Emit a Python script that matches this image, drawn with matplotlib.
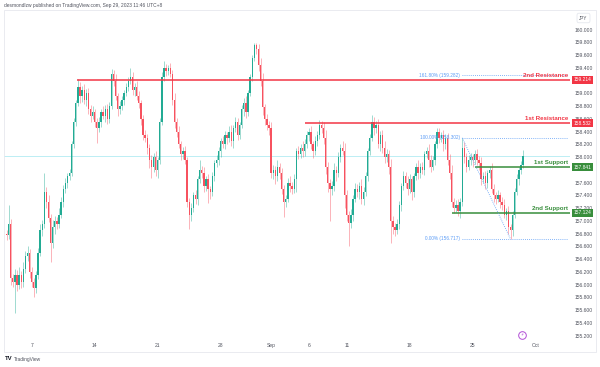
import numpy as np
import matplotlib
matplotlib.use("Agg")
import matplotlib.pyplot as plt
from matplotlib.patches import Rectangle
from matplotlib.transforms import blended_transform_factory

plt.rcParams['font.family'] = ['Liberation Sans', 'DejaVu Sans']

# ---------------- data (USDJPY 4H, Aug 3 - Sep 29 2023) ----------------
first_open = 156.80
closes = [
    156.78, 156.95, 156.10, 156.05, 156.15, 156.00, 156.15, 156.05, 156.25, 156.45,
    156.50, 156.20, 156.05, 155.95, 156.15, 156.50, 156.85, 156.95, 157.45, 157.30,
    157.05, 156.65, 156.90, 157.00, 156.95, 157.10, 157.30, 157.50, 157.60, 157.70,
    157.75, 158.20, 158.55, 158.85, 159.10, 158.95, 159.05, 158.90, 159.00, 158.75,
    158.65, 158.70, 158.55, 158.45, 158.55, 158.70, 158.65, 158.75, 158.60, 158.80,
    159.30, 159.20, 158.95, 158.75, 158.80, 158.90, 159.00, 159.10, 159.20, 159.25,
    159.05, 159.10, 158.95, 158.85, 158.60, 158.35, 158.30, 158.15, 157.95, 157.85,
    158.00, 157.80, 157.95, 158.55, 159.25, 159.40, 159.35, 159.40, 159.30, 158.90,
    158.55, 158.40, 158.20, 158.05, 158.10, 157.95, 157.30, 157.10, 157.20, 157.40,
    157.35, 157.65, 157.80, 157.75, 157.55, 157.65, 157.50, 157.45, 157.70, 157.90,
    157.95, 158.10, 158.25, 158.20, 158.35, 158.30, 158.40, 158.25, 158.45, 158.55,
    158.35, 158.50, 158.75, 158.85, 158.70, 159.00, 159.25, 159.55, 159.75, 159.70,
    159.45, 159.20, 158.78, 158.60, 158.50, 158.45, 157.75, 157.80, 157.70, 157.85,
    157.75, 157.50, 157.30, 157.35, 157.60, 157.55, 157.50, 157.65, 158.10, 158.05,
    158.15, 158.10, 158.20, 158.35, 158.40, 158.20, 158.10, 158.25, 158.35, 158.50,
    158.45, 158.30, 157.85, 157.60, 157.50, 157.55, 157.80, 157.75, 158.00, 158.15,
    158.10, 157.40, 157.10, 156.97, 157.10, 157.35, 157.50, 157.45, 157.55, 157.35,
    157.45, 157.70, 158.10, 158.30, 158.55, 158.45, 158.50, 158.20, 158.35, 158.15,
    158.00, 158.05, 157.85, 157.00, 156.90, 156.85, 156.95, 157.25, 157.55, 157.70,
    157.60, 157.50, 157.65, 157.45, 157.70, 157.85, 157.75, 157.85, 157.80, 158.05,
    158.10, 157.95, 157.85, 157.95, 158.20, 158.40, 158.30, 158.35, 158.20, 158.30,
    157.95, 157.75, 157.30, 157.20, 157.25, 157.15, 157.30, 158.15, 158.00, 157.85,
    157.95, 158.00, 157.95, 158.05, 157.95, 157.90, 157.65, 157.70, 157.60, 157.75,
    157.80, 157.50, 157.40, 157.35, 157.40, 157.30, 157.25, 157.10, 157.15, 156.90,
    156.85, 157.10, 157.45, 157.65, 157.80, 157.88, 158.02,
]
# upper / lower wick lengths in hundredths of a yen
upper_wick = [
    5, 30, 8, 6, 10, 8, 12, 6, 10, 8,
    10, 6, 8, 5, 6, 8, 10, 6, 30, 8,
    10, 6, 12, 8, 6, 10, 8, 6, 8, 5,
    6, 5, 6, 5, 12, 8, 6, 10, 6, 8,
    6, 10, 5, 6, 8, 5, 10, 6, 8, 6,
    8, 6, 10, 5, 8, 6, 5, 6, 5, 15,
    8, 6, 10, 8, 5, 6, 8, 6, 5, 8,
    6, 10, 5, 6, 8, 10, 6, 5, 8, 6,
    10, 6, 8, 5, 6, 8, 5, 6, 8, 6,
    8, 5, 15, 6, 10, 6, 8, 5, 6, 5,
    8, 6, 5, 8, 6, 5, 8, 10, 6, 8,
    6, 5, 6, 8, 10, 5, 6, 5, 4, 4,
    8, 10, 12, 6, 8, 6, 10, 8, 6, 10,
    6, 8, 6, 5, 8, 10, 6, 8, 5, 8,
    6, 10, 8, 6, 5, 8, 6, 8, 6, 8,
    6, 10, 12, 8, 6, 8, 10, 6, 8, 5,
    10, 12, 8, 6, 8, 6, 10, 8, 6, 10,
    8, 6, 5, 6, 11, 8, 6, 10, 6, 8,
    10, 8, 6, 12, 8, 6, 8, 6, 5, 8,
    6, 10, 8, 6, 5, 6, 10, 6, 8, 5,
    6, 10, 8, 6, 5, 5, 6, 5, 8, 6,
    8, 10, 12, 6, 8, 10, 6, 15, 8, 6,
    8, 6, 5, 6, 8, 6, 10, 6, 8, 5,
    6, 10, 8, 6, 8, 6, 8, 10, 6, 8,
    5, 5, 6, 8, 5, 6, 9,
]
lower_wick = [
    8, 6, 10, 8, 50, 10, 6, 10, 8, 6,
    8, 10, 8, 15, 8, 6, 5, 8, 6, 10,
    6, 29, 8, 10, 8, 6, 5, 8, 6, 8,
    6, 5, 5, 6, 5, 10, 8, 6, 10, 8,
    10, 6, 8, 23, 6, 8, 6, 10, 8, 6,
    5, 8, 6, 10, 8, 6, 8, 5, 6, 5,
    8, 10, 6, 8, 10, 8, 6, 10, 12, 18,
    8, 10, 12, 6, 5, 6, 8, 6, 5, 8,
    10, 8, 6, 10, 8, 6, 8, 22, 10, 6,
    8, 10, 6, 8, 10, 8, 22, 10, 6, 8,
    6, 8, 10, 6, 8, 10, 6, 8, 10, 6,
    8, 6, 5, 10, 8, 6, 5, 6, 5, 8,
    10, 8, 12, 10, 8, 10, 8, 10, 12, 8,
    10, 8, 24, 8, 6, 10, 8, 6, 20, 8,
    6, 10, 8, 6, 10, 8, 12, 6, 8, 6,
    8, 10, 12, 15, 50, 10, 8, 12, 6, 8,
    6, 20, 10, 37, 8, 10, 6, 8, 10, 8,
    10, 6, 8, 6, 5, 10, 8, 6, 10, 8,
    10, 8, 12, 35, 10, 8, 6, 8, 10, 6,
    8, 10, 6, 12, 8, 6, 10, 8, 6, 8,
    6, 10, 8, 6, 8, 5, 8, 6, 10, 8,
    8, 10, 8, 8, 6, 8, 10, 6, 10, 8,
    6, 8, 10, 6, 8, 10, 8, 6, 10, 8,
    8, 6, 10, 8, 6, 10, 8, 6, 8, 10,
    13, 8, 6, 5, 8, 6, 5,
]

x_tick_pos = [12, 42, 72, 102, 126, 144, 162, 192, 222, 252]
x_tick_labels = ['7', '14', '21', '28', 'Sep', '6', '11', '18', '25', 'Oct']
# 159.200 and 157.800 are hidden behind the level tags in the reference
y_ticks = [155.2, 155.4, 155.6, 155.8, 156.0, 156.2, 156.4, 156.6, 156.8, 157.0,
           157.2, 157.4, 157.6, 158.0, 158.2, 158.4, 158.6, 158.8, 159.0,
           159.4, 159.6, 159.8, 160.0]

levels = {  # name: (price, start candle, colour)
    '2nd Resistance': (159.214, 33.5, '#f23645'),
    '1st Resistance': (158.532, 142, '#f23645'),
    '1st Support': (157.841, 223, '#388e3c'),
    '2nd Support': (157.124, 212, '#388e3c'),
}
fib_levels = [(1.618, 159.282), (1.0, 158.302), (0.0, 156.717)]
fib_start, fib_end_anchor = 217, 240
last_price = 158.02

# ---------------- build OHLC ----------------
closes = np.array(closes)
opens = np.concatenate([[first_open], closes[:-1]])
highs = np.maximum(opens, closes) + np.array(upper_wick) / 100.0
lows = np.minimum(opens, closes) - np.array(lower_wick) / 100.0
idx = np.arange(len(closes))

GREEN = '#22ab94'
RED = '#f7525f'
up = closes >= opens
colors = np.where(up, GREEN, RED)

# ---------------- figure ----------------
W, H = 600, 367
fig = plt.figure(figsize=(W / 100, H / 100), dpi=100)
fig.patch.set_facecolor('white')
ax = fig.add_axes([4 / W, 1 - 340 / H, 566 / W, 330 / H])
ax.set_facecolor('white')

XMIN, XMAX = (4 - 6.5) / 2.1, (570 - 6.5) / 2.1
ax.set_xlim(XMIN, XMAX)
ax.set_ylim(160 - (340 - 29.5) / 63.8, 160 + (29.5 - 10) / 63.8)

# last price line
ax.axhline(last_price, color='#b2ebf2', lw=0.6, zorder=1)

# candles
ax.vlines(idx, lows, highs, colors=colors, lw=0.55, alpha=0.55, zorder=2)
body_h = np.maximum(np.abs(closes - opens), 0.012)
ax.bar(idx, body_h, bottom=np.minimum(opens, closes), width=0.62,
       color=colors, edgecolor='none', zorder=3)

# support / resistance
for name, (price, start, col) in levels.items():
    ax.hlines(price, start, XMAX, colors=col, lw=1.1, zorder=4)
    ax.text(267.4, price + 0.03, name, color=col, fontsize=4.4, fontweight='bold',
            ha='right', va='bottom', zorder=6)

# fibonacci
FIB = '#5b9cf6'
for lvl, price in fib_levels:
    ax.hlines(price, fib_start, 267, colors=FIB, lw=0.6, linestyles=(0, (1, 1.5)), zorder=4)
    ax.text(fib_start - 1.2, price, f'{lvl * 100:.2f}% ({price:.3f})', color=FIB,
            fontsize=3.4, ha='right', va='center', zorder=6)
ax.plot([fib_start, fib_end_anchor], [fib_levels[1][1], fib_levels[2][1]],
        color=FIB, lw=0.6, ls=(0, (1, 1.5)), zorder=4)

# axes styling
for s in ax.spines.values():
    s.set_visible(False)
ax.yaxis.tick_right()
ax.set_yticks(y_ticks)
ax.set_yticklabels([f'{v:.3f}' for v in y_ticks])
ax.tick_params(axis='y', length=0, pad=3.0, labelsize=3.6, labelcolor='#50535e')
ax.set_xticks(x_tick_pos)
ax.set_xticklabels(x_tick_labels)
ax.tick_params(axis='x', length=0, pad=2.5, labelsize=3.6, labelcolor='#50535e')

# price tags on the axis
tr = blended_transform_factory(fig.transFigure, ax.transData)
for name, (price, start, col) in levels.items():
    ax.text(582.5 / W, price, f'{price:.3f}', transform=tr, color='white',
            fontsize=3.5, ha='center', va='center', zorder=10, clip_on=False,
            bbox=dict(boxstyle='square,pad=0.3', fc=col, ec='none'))

# event marker
ax.plot([245.4], [155.21], marker='o', ms=5.5, mfc='white', mec='#b24fd6', mew=0.7,
        clip_on=False, zorder=7)
ax.text(245.4, 155.21, '\u26a1', family='DejaVu Sans', color='#b24fd6', fontsize=3.2,
        ha='center', va='center', clip_on=False, zorder=8)

# frame, header, footer
fig.add_artist(Rectangle((4 / W, 1 - 352 / H), 592 / W, 342 / H, transform=fig.transFigure,
                         fill=False, ec='#e6e8ee', lw=0.6))
fig.text(4 / W, 1 - 5 / H, 'desmondlzw published on TradingView.com, Sep 29, 2023 11:46 UTC+8',
         fontsize=3.5, color='#50535e', ha='left', va='center')
fig.text(583.5 / W, 1 - 18 / H, 'JPY', fontsize=3.3, color='#50535e', ha='center', va='center',
         bbox=dict(boxstyle='round,pad=0.5,rounding_size=0.4', fc='white', ec='#e0e3eb', lw=0.5))
fig.text(4.5 / W, 1 - 359 / H, 'TV', fontsize=4.3, fontweight='bold', color='#131722',
         ha='left', va='center')
fig.text(14 / W, 1 - 359 / H, 'TradingView', fontsize=3.5, color='#50535e',
         ha='left', va='center')

fig.savefig('out.png', dpi=100, facecolor='white')
